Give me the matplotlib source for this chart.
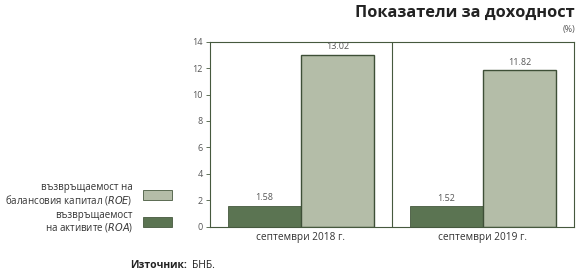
import matplotlib
matplotlib.use("Agg")
import matplotlib.pyplot as plt
import numpy as np
from matplotlib.patches import Rectangle

# data
periods = ["септември 2018 г.", "септември 2019 г."]
roa = [1.58, 1.52]
roe = [13.02, 11.82]
yticks = [0, 2, 4, 6, 8, 10, 12, 14]

dark = "#5b7452"
light = "#b4bda8"
edge = "#46593e"
grey = "#555555"

plt.rcParams["font.family"] = ["Open Sans", "DejaVu Sans"]

fig = plt.figure(figsize=(5.88, 2.78), dpi=100)
ax = fig.add_axes([0.357, 0.185, 0.619, 0.665])

x = np.arange(len(periods))
w = 0.4
b1 = ax.bar(x - w / 2, roa, w, color=dark, edgecolor=edge, linewidth=0.6)
b2 = ax.bar(x + w / 2, roe, w, color=light, edgecolor="#3e4f37", linewidth=1.0)

for bars in (b1, b2):
    for r in bars:
        ax.text(r.get_x() + r.get_width() / 2, r.get_height() + 0.25,
                f"{r.get_height():.2f}", ha="center", va="bottom",
                fontsize=6.5, color=grey)

ax.axvline(0.5, color=edge, linewidth=0.8)
ax.set_xlim(-0.5, 1.5)
ax.set_ylim(0, 14)
ax.set_yticks(yticks)
ax.set_xticks(x)
ax.set_xticklabels(periods, fontsize=7.3, color="#333333")
ax.tick_params(axis="x", length=0, pad=4)
ax.tick_params(axis="y", labelsize=6.5, labelcolor=grey, length=3,
               color=edge, width=0.6, pad=2)
for s in ax.spines.values():
    s.set_color(edge)
    s.set_linewidth(0.8)

fig.text(0.978, 0.955, "Показатели за доходност", ha="right", va="center",
         fontsize=11.8, fontweight="bold", color="#222222")
fig.text(0.978, 0.893, "(%)", ha="right", va="center", fontsize=6.5, color=grey)

# legend drawn by hand
leg = [("възвръщаемост на\nбалансовия капитал ($\\mathit{ROE}$)", light, 0.30),
       ("възвръщаемост\nна активите ($\\mathit{ROA}$)", dark, 0.20)]
for label, col, yy in leg:
    fig.patches.append(Rectangle((0.243, yy - 0.018), 0.050, 0.036,
                                 transform=fig.transFigure, facecolor=col,
                                 edgecolor=edge, linewidth=0.6))
    fig.text(0.226, yy, label, ha="right", va="center", fontsize=7,
             color="#333333", linespacing=1.0, multialignment="right")

fig.text(0.221, 0.045, "Източник:", ha="left", va="center", fontsize=7.5,
         fontweight="bold", color="#222222")
fig.text(0.326, 0.045, "БНБ.", ha="left", va="center", fontsize=7.5,
         color="#222222")

fig.savefig("out.png", dpi=100)
